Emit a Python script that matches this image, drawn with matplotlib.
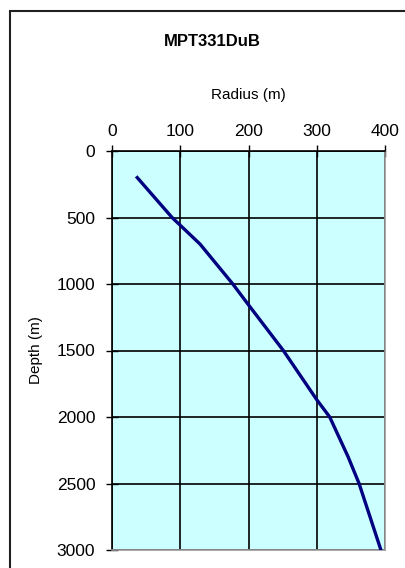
import matplotlib.pyplot as plt
from matplotlib.patches import Rectangle

# depth profile
depth_m = [200, 500, 700, 800, 1000, 1150, 1500, 1870, 2000, 2300, 2500, 3000]
radius_m = [37, 88, 129, 145, 177, 199, 251, 300, 319, 346, 362, 394]

x_ticks = [0, 100, 200, 300, 400]
y_ticks = [0, 500, 1000, 1500, 2000, 2500, 3000]

W, H = 405, 568
fig = plt.figure(figsize=(W / 100, H / 100), dpi=100)
plt.rcParams["font.family"] = ["Liberation Sans", "DejaVu Sans"]

# chart-area border (runs off the right and bottom edges)
fig.patches.append(Rectangle((9.5 / W, -0.05), 1.2, 1 - 10.5 / H + 0.05,
                             transform=fig.transFigure, fill=False,
                             edgecolor="#202020", lw=1.5))

x0, x1, y0, y1 = 112, 385, 151, 550
ax = fig.add_axes([x0 / W, 1 - y1 / H, (x1 - x0) / W, (y1 - y0) / H])
ax.set_facecolor("#CCFFFF")
ax.plot(radius_m, depth_m, color="#000080", lw=2.4, zorder=3)

ax.set_xlim(0, 400)
ax.set_ylim(3000, 0)
ax.set_xticks(x_ticks)
ax.set_yticks(y_ticks)
ax.xaxis.tick_top()
ax.xaxis.set_label_position("top")
ax.grid(True, color="black", lw=1.2)
ax.tick_params(axis="x", direction="inout", length=8, width=1, labelsize=12.5, pad=5)
ax.tick_params(axis="y", direction="inout", length=8, width=1, labelsize=12.5, pad=8)
for s in ("top", "left"):
    ax.spines[s].set_color("black")
    ax.spines[s].set_linewidth(1.2)
for s in ("right", "bottom"):
    ax.spines[s].set_color("#999999")
    ax.spines[s].set_linewidth(1.2)

ax.set_xlabel("Radius (m)", fontsize=11)
ax.set_ylabel("Depth (m)", fontsize=11)
# place axis labels at measured pixel positions
ax.xaxis.set_label_coords((248 - x0) / (x1 - x0), (y1 - 95) / (y1 - y0))
ax.yaxis.set_label_coords((36 - x0) / (x1 - x0), (y1 - 350) / (y1 - y0))
ax.xaxis.label.set_va("center")
ax.yaxis.label.set_va("center")

fig.text(212 / W, 1 - 42 / H, "MPT331DuB", fontsize=12, fontweight="bold",
         ha="center", va="center")

fig.savefig("out.png", dpi=100)
